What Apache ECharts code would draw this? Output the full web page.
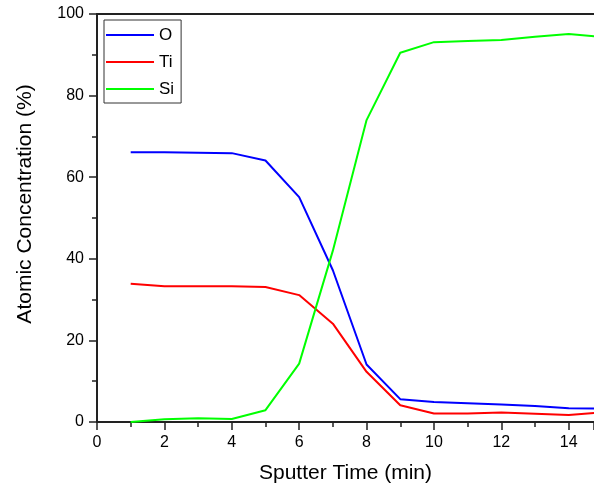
<!DOCTYPE html>
<html><head><meta charset="utf-8">
<script src="https://cdn.jsdelivr.net/npm/echarts@6/dist/echarts.min.js"></script>
<style>html,body{margin:0;padding:0;background:#fff}#c{width:594px;height:490px}</style>
</head><body><div id="c"></div>
<script>
const times = [1,2,3,4,5,6,7,8,9,10,11,12,13,14,15];
const oValues  = [66.1,66.1,66.0,65.9,64.1,55.1,37.2,14.1,5.6,4.9,4.6,4.3,3.9,3.4,3.3];
const tiValues = [33.9,33.3,33.3,33.3,33.1,31.1,24.1,12.3,4.1,2.1,2.1,2.3,2.0,1.7,2.4];
const siValues = [0.0,0.7,0.9,0.75,2.9,14.3,42.0,74.0,90.5,93.1,93.4,93.6,94.4,95.1,94.4];
const seriesNames = ['O','Ti','Si'];
const seriesColors = ['#0000ff','#ff0000','#00ff00'];
const allValues = [oValues, tiValues, siValues];

const chart = echarts.init(document.getElementById('c'));
const font = 'Liberation Sans, Arial, sans-serif';
chart.setOption({
  animation:false,
  grid:{left:97, top:14, right:0, bottom:68},
  legend:{
    orient:'vertical', left:104, top:20,
    data:seriesNames,
    icon:'rect', itemWidth:48, itemHeight:2, itemGap:9,
    borderColor:'#333', borderWidth:1, padding:[6,7,5,2],
    textStyle:{fontFamily:font, fontSize:17, color:'#000', padding:[0,0,0,0], lineHeight:18}
  },
  xAxis:[{
    type:'value', min:0, max:14.75, interval:2,
    name:'Sputter Time (min)', nameLocation:'middle', nameGap:41,
    nameTextStyle:{fontFamily:font, fontSize:21, color:'#000'},
    axisLine:{lineStyle:{color:'#222', width:2}},
    axisTick:{length:8, lineStyle:{color:'#222', width:1.5}},
    minorTick:{show:true, splitNumber:2, length:5, lineStyle:{color:'#222', width:1.5}},
    axisLabel:{fontFamily:font, fontSize:16, color:'#000', margin:13, showMaxLabel:false},
    splitLine:{show:false}
  },{
    type:'value', min:0, max:14.75, position:'top',
    axisLine:{show:true, lineStyle:{color:'#222', width:2}},
    axisTick:{show:false}, axisLabel:{show:false}, splitLine:{show:false}
  }],
  yAxis:{
    type:'value', min:0, max:100, interval:20,
    name:'Atomic Concentration (%)', nameLocation:'middle', nameGap:61,
    nameTextStyle:{fontFamily:font, fontSize:21, color:'#000', padding:[0,0,0,28]},
    axisLine:{show:true, lineStyle:{color:'#222', width:2}},
    axisTick:{show:true, length:8, lineStyle:{color:'#222', width:1.5}},
    minorTick:{show:true, splitNumber:2, length:5, lineStyle:{color:'#222', width:1.5}},
    axisLabel:{fontFamily:font, fontSize:16, color:'#000', margin:13},
    splitLine:{show:false}
  },
  series: seriesNames.map((n,i)=>({
    name:n, type:'line', symbol:'none', clip:true,
    data: times.map((t,j)=>[t, allValues[i][j]]),
    lineStyle:{color:seriesColors[i], width:2},
    itemStyle:{color:seriesColors[i]}
  }))
});
</script></body></html>
